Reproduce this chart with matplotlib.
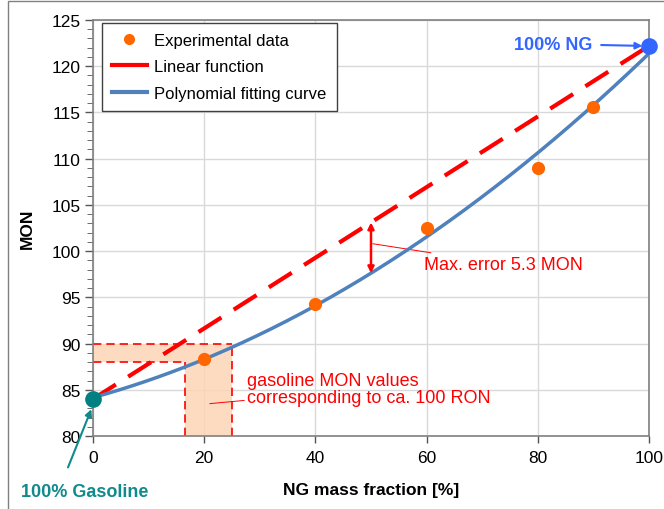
import numpy as np
import matplotlib
matplotlib.use("Agg")
import matplotlib.pyplot as plt
from matplotlib.patches import Rectangle
from matplotlib.lines import Line2D

plt.rcParams['font.family'] = ['Liberation Sans', 'DejaVu Sans']

# data
ng_frac = [20, 40, 60, 80, 90]
mon_exp = [88.3, 94.3, 102.5, 109.0, 115.6]
gas_point = (0, 84.0)
ng_point = (100, 122.2)
xticks = [0, 20, 40, 60, 80, 100]
yticks = [80, 85, 90, 95, 100, 105, 110, 115, 120, 125]
box_mon = (88.0, 90.0)
box_ng = (16.5, 25.0)
max_err_x = 50

fig = plt.figure(figsize=(6.64, 5.10), dpi=100)
ax = fig.add_axes([93/664, 1-437/510, (649-93)/664, (437-21)/510])

# polynomial fit through all data
xs_all = np.array([gas_point[0]] + ng_frac + [ng_point[0]], float)
ys_all = np.array([gas_point[1]] + mon_exp + [ng_point[1]], float)
coef = np.polyfit(xs_all, ys_all, 2)
xx = np.linspace(0, 100, 300)
yy = np.polyval(coef, xx)

def lin(x):
    return gas_point[1] + (ng_point[1]-gas_point[1]) * (x - gas_point[0]) / (ng_point[0]-gas_point[0])

def poly(x):
    return np.polyval(coef, x)

# shaded boxes
fill = '#fcd5b5'
ax.add_patch(Rectangle((0, box_mon[0]), box_ng[1], box_mon[1]-box_mon[0], facecolor=fill, edgecolor='none', alpha=0.85, zorder=1))
ax.add_patch(Rectangle((box_ng[0], 80), box_ng[1]-box_ng[0], box_mon[0]-80, facecolor=fill, edgecolor='none', alpha=0.85, zorder=1))
dkw = dict(color='#ff0000', lw=1.2, ls=(0, (5, 3)), zorder=2)
ax.plot([0, box_ng[1]], [box_mon[1], box_mon[1]], **dkw)
ax.plot([0, box_ng[0]], [box_mon[0], box_mon[0]], **dkw)
ax.plot([box_ng[0], box_ng[0]], [80, box_mon[0]], **dkw)
ax.plot([box_ng[1], box_ng[1]], [80, box_mon[1]], **dkw)

# lines
ax.plot([gas_point[0], ng_point[0]], [gas_point[1], ng_point[1]], color='#ff0000', lw=3,
        ls=(0, (6.5, 3.5)), zorder=3, dash_capstyle='butt')
ax.plot(xx, yy, color='#4f81bd', lw=2.5, zorder=4)
ax.plot(ng_frac, mon_exp, 'o', color='#ff6600', ms=9.5, zorder=5, mec='none')
ax.plot(*gas_point, 'o', color='#008080', ms=12, zorder=6, mec='none', clip_on=False)
ax.plot(*ng_point, 'o', color='#3366ff', ms=12, zorder=6, mec='none', clip_on=False)

# max error arrow
ax.annotate('', xy=(max_err_x, poly(max_err_x)), xytext=(max_err_x, lin(max_err_x)),
            arrowprops=dict(arrowstyle='<|-|>', color='#ff0000', lw=1.8, mutation_scale=9,
                            shrinkA=0, shrinkB=0), zorder=7)
ax.annotate('Max. error 5.3 MON', xy=(50.3, 100.8), xytext=(59.5, 98.6),
            color='#ff0000', fontsize=13, va='center', ha='left',
            arrowprops=dict(arrowstyle='-', color='#ff0000', lw=0.7, shrinkA=0, shrinkB=0))

ax.annotate('gasoline MON values\ncorresponding to ca. 100 RON', xy=(21.0, 83.5), xytext=(27.7, 85.1),
            color='#ff0000', fontsize=13, va='center', ha='left', linespacing=1.05,
            arrowprops=dict(arrowstyle='-', color='#ff0000', lw=0.7, shrinkA=0, shrinkB=0))

ax.annotate('100% NG', xy=(98.8, 122.2), xytext=(75.8, 122.4), color='#3366ff', fontsize=13,
            fontweight='bold', va='center', ha='left',
            arrowprops=dict(arrowstyle='-|>', color='#3366ff', lw=1.5, mutation_scale=10, shrinkA=4, shrinkB=0),
            annotation_clip=False)

ax.text(-1.5, 74.0, '100% Gasoline', color='#108a8a', fontsize=13, fontweight='bold',
        va='center', ha='center', clip_on=False)
ax.annotate('', xy=(-0.3, 82.9), xytext=(-4.5, 76.6), annotation_clip=False,
            arrowprops=dict(arrowstyle='-|>', color='#108a8a', lw=1.5, mutation_scale=10, shrinkA=0, shrinkB=0))

ax.set_xlim(0, 100)
ax.set_ylim(80, 125)
ax.set_xticks(xticks)
ax.set_yticks(yticks)
ax.set_yticks(np.arange(80, 126, 1), minor=True)
ax.tick_params(axis='both', labelsize=12.5, color='#555555', width=1)
ax.tick_params(axis='y', which='major', length=6, direction='out', pad=3)
ax.tick_params(axis='y', which='minor', length=4, direction='out', color='#555555')
ax.tick_params(axis='x', which='major', length=5, direction='out', pad=5)
ax.grid(True, which='major', color='#d9d9d9', lw=1)
ax.set_axisbelow(True)
for s in ax.spines.values():
    s.set_color('#808080')
    s.set_linewidth(1.2)

ax.set_xlabel('NG mass fraction [%]', fontsize=12.5, fontweight='bold', labelpad=12)
ax.set_ylabel('MON', fontsize=12.5, fontweight='bold', labelpad=12)

h = [Line2D([], [], marker='o', color='#ff6600', ls='none', ms=8, mec='none'),
     Line2D([], [], color='#ff0000', lw=3),
     Line2D([], [], color='#4f81bd', lw=3)]
leg = ax.legend(h, ['Experimental data', 'Linear function', 'Polynomial fitting curve'],
                loc='upper left', bbox_to_anchor=(0.016, 0.993), fontsize=12, fancybox=False,
                framealpha=1, edgecolor='#404040', borderpad=0.6, labelspacing=0.68,
                handlelength=2.1, handletextpad=0.45, borderaxespad=0.0)
leg.get_frame().set_linewidth(1.0)

# outer border
fig.add_artist(Rectangle((8/664, -0.01), 1.1, 1 - 2/510 + 0.01, transform=fig.transFigure,
                         fill=False, edgecolor='#808080', lw=1))

fig.savefig('out.png', dpi=100)
